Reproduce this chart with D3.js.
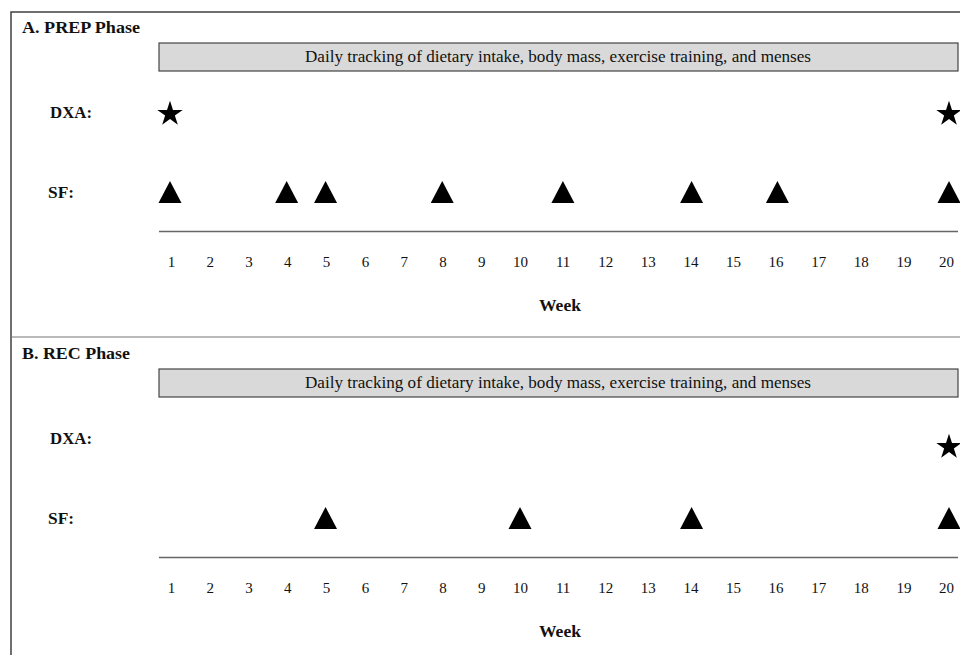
<!DOCTYPE html>
<html>
<head>
<meta charset="utf-8">
<script src="https://cdn.jsdelivr.net/npm/d3@7"></script>
<style>
  html, body { margin: 0; padding: 0; background: #fff; }
  svg { display: block; }
  text { font-family: "Liberation Serif", "DejaVu Serif", serif; fill: #111; }
</style>
</head>
<body>
<svg id="chart" width="960" height="655"></svg>
<script>
// ---- data ----
const weeks = [1, 2, 3, 4, 5, 6, 7, 8, 9, 10, 11, 12, 13, 14, 15, 16, 17, 18, 19, 20];
const panelTitles = ["A. PREP Phase", "B. REC Phase"];
const rowLabels = ["DXA:", "SF:"];
const bannerText = "Daily tracking of dietary intake, body mass, exercise training, and menses";
const dxaWeeksA = [1, 20];
const sfWeeksA = [1, 4, 5, 8, 11, 14, 16, 20];
const dxaWeeksB = [20];
const sfWeeksB = [5, 10, 14, 20];
const axisTitle = "Week";

// ---- layout ----
const svg = d3.select("#chart");
const W = 960, H = 655;
const x = d3.scaleLinear().domain([1, 10, 20]).range([171, 520, 946]);   // tick labels
const xm = d3.scaleLinear().domain([1, 10, 20]).range([170, 520, 949]);  // markers

// outer frame
svg.append("rect").attr("x", 11).attr("y", 12).attr("width", W + 20).attr("height", H + 20)
  .attr("fill", "none").attr("stroke", "#333").attr("stroke-width", 1.4);
svg.append("line").attr("x1", 11).attr("x2", W).attr("y1", 337).attr("y2", 337)
  .attr("stroke", "#777").attr("stroke-width", 1.2);

const triangle = {
  draw(ctx, size) {
    const w = 23, h = 22;
    ctx.moveTo(0, -h / 2);
    ctx.lineTo(w / 2, h / 2);
    ctx.lineTo(-w / 2, h / 2);
    ctx.closePath();
  }
};

const panels = [
  { title: panelTitles[0], titleLen: 118, dy: 0, dxa: dxaWeeksA, sf: sfWeeksA, starDy: 0 },
  { title: panelTitles[1], titleLen: 108, dy: 326, dxa: dxaWeeksB, sf: sfWeeksB, starDy: 7 }
];

panels.forEach(p => {
  const g = svg.append("g").attr("transform", `translate(0,${p.dy})`);

  g.append("text").attr("x", 22).attr("y", 33)
    .attr("font-size", 17).attr("font-weight", "bold")
    .attr("textLength", p.titleLen).attr("lengthAdjust", "spacingAndGlyphs").text(p.title);

  // banner
  g.append("rect").attr("x", 159).attr("y", 43).attr("width", 799).attr("height", 28)
    .attr("fill", "#d9d9d9").attr("stroke", "#444").attr("stroke-width", 1.2);
  g.append("text").attr("x", 558).attr("y", 62).attr("text-anchor", "middle")
    .attr("font-size", 16).attr("fill", "#222")
    .attr("textLength", 506).attr("lengthAdjust", "spacingAndGlyphs").text(bannerText);

  // row labels
  g.append("text").attr("x", 50).attr("y", 118).attr("font-size", 17).attr("font-weight", "bold")
    .attr("textLength", 42).attr("lengthAdjust", "spacingAndGlyphs").text(rowLabels[0]);
  g.append("text").attr("x", 48).attr("y", 198).attr("font-size", 17).attr("font-weight", "bold")
    .attr("textLength", 26).attr("lengthAdjust", "spacingAndGlyphs").text(rowLabels[1]);

  // DXA stars
  g.selectAll("path.star").data(p.dxa).join("path").attr("class", "star")
    .attr("d", d3.symbol(d3.symbolStar, 200)())
    .attr("transform", d => `translate(${xm(d)},${114 + p.starDy})`)
    .attr("fill", "#000");

  // SF triangles
  g.selectAll("path.tri").data(p.sf).join("path").attr("class", "tri")
    .attr("d", d3.symbol(triangle, 100)())
    .attr("transform", d => `translate(${xm(d)},${192})`)
    .attr("fill", "#000");

  // axis line
  g.append("line").attr("x1", 159).attr("x2", 958).attr("y1", 231.5).attr("y2", 231.5)
    .attr("stroke", "#666").attr("stroke-width", 1.3);

  // tick labels
  const ax = g.append("g").attr("transform", "translate(0,256)")
    .call(d3.axisBottom(x).tickValues(weeks).tickSize(0).tickPadding(0).tickFormat(d3.format("d")));
  ax.select(".domain").remove();
  ax.selectAll("text").attr("font-family", "Liberation Serif, DejaVu Serif, serif")
    .attr("font-size", 15).attr("fill", "#222");

  g.append("text").attr("x", 560).attr("y", 311).attr("text-anchor", "middle")
    .attr("font-size", 17).attr("font-weight", "bold")
    .attr("textLength", 42).attr("lengthAdjust", "spacingAndGlyphs").text(axisTitle);
});
</script>
</body>
</html>
